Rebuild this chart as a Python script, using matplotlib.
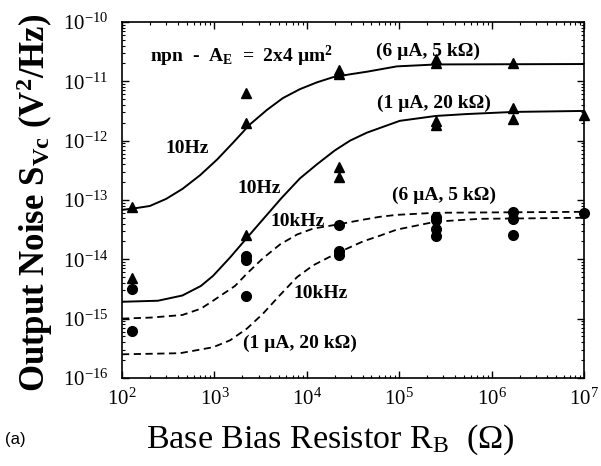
import matplotlib
matplotlib.use("Agg")
import matplotlib.pyplot as plt
import numpy as np

plt.rcParams['font.family'] = ['Liberation Serif', 'DejaVu Serif']
plt.rcParams['mathtext.fontset'] = 'custom'
plt.rcParams['mathtext.rm'] = 'Liberation Serif'
plt.rcParams['mathtext.it'] = 'Liberation Serif:italic'
plt.rcParams['mathtext.bf'] = 'Liberation Serif:bold'

# ---- measured points (base resistor in ohm, noise in V^2/Hz) ----
rb_10hz = [128, 128, 2200, 2200, 2200, 22000, 22000, 22000, 22000,
           250000, 250000, 250000, 250000, 1.7e6, 1.7e6, 1.7e6, 1e7]
s_10hz = [7.6e-14, 4.8e-15, 6.3e-12, 2.0e-12, 2.6e-14, 1.53e-11, 1.3e-11, 3.55e-13, 2.4e-13,
          2.4e-11, 2.0e-11, 2.15e-12, 1.8e-12, 2.0e-11, 3.55e-12, 2.3e-12, 2.7e-12]

rb_10khz = [128, 128, 2200, 2200, 2200, 22000, 22000, 22000,
            250000, 250000, 250000, 250000, 1.7e6, 1.7e6, 1.7e6, 1e7]
s_10khz = [3.2e-15, 6.1e-16, 1.12e-14, 9.6e-15, 2.4e-15, 3.8e-14, 1.36e-14, 1.2e-14,
           5.2e-14, 4.6e-14, 3.2e-14, 2.5e-14, 6.3e-14, 4.8e-14, 2.6e-14, 6.1e-14]

# ---- model curves ----
# 10 Hz, (6 uA, 5 kOhm)
rb_c1 = [100, 128, 200, 300, 450, 700, 1070, 1600, 2400, 3700, 5500, 8400, 12900,
         19200, 29400, 45000, 94000, 254000, 1e7]
s_c1 = [6.8e-14, 7.1e-14, 7.9e-14, 1.04e-13, 1.53e-13, 2.61e-13, 4.8e-13, 9.3e-13, 1.85e-12,
        3.29e-12, 5.2e-12, 7.35e-12, 9.6e-12, 1.17e-11, 1.31e-11, 1.45e-11, 1.78e-11,
        1.92e-11, 1.95e-11]

# 10 Hz, (1 uA, 20 kOhm)
rb_c2 = [100, 245, 450, 714, 966, 1475, 2250, 3350, 5300, 8400, 12900, 20000, 29400,
         44600, 101000, 248000, 537000, 1.73e6, 1e7]
s_c2 = [1.92e-15, 2.0e-15, 2.45e-15, 3.55e-15, 5.25e-15, 1.07e-14, 2.3e-14, 4.7e-14, 1.07e-13,
        2.3e-13, 4.0e-13, 6.8e-13, 1.0e-12, 1.36e-12, 2.15e-12, 2.6e-12, 2.8e-12, 3.04e-12,
        3.16e-12]

# 10 kHz, (6 uA, 5 kOhm)
rb_c3 = [100, 206, 450, 714, 966, 1670, 2250, 3350, 5130, 7830, 11700, 21000, 40500,
         61900, 94000, 248000, 1e7]
s_c3 = [1.0e-15, 1.04e-15, 1.15e-15, 1.47e-15, 2.0e-15, 3.55e-15, 5.75e-15, 1.04e-14, 1.78e-14,
        2.61e-14, 3.29e-14, 3.83e-14, 4.64e-14, 5.2e-14, 5.6e-14, 6.07e-14, 6.3e-14]

# 10 kHz, (1 uA, 20 kOhm)
rb_c4 = [100, 425, 966, 1475, 2250, 3350, 5130, 7830, 11700, 21000, 40500, 61900, 94000,
         248000, 741000, 1e7]
s_c4 = [2.5e-16, 2.61e-16, 3.29e-16, 4.3e-16, 6.8e-16, 1.21e-15, 2.5e-15, 5.0e-15, 7.9e-15,
        1.26e-14, 2.0e-14, 2.5e-14, 3.16e-14, 4.3e-14, 4.8e-14, 5.0e-14]

fig = plt.figure(figsize=(6.01, 4.66), dpi=100)
ax = fig.add_axes([0.203, 0.189, 0.769, 0.764])

ax.plot(rb_c1, s_c1, color='black', lw=1.4)
ax.plot(rb_c2, s_c2, color='black', lw=1.4)
ax.plot(rb_c3, s_c3, color='black', lw=1.3, dashes=(4, 2.5))
ax.plot(rb_c4, s_c4, color='black', lw=1.3, dashes=(4, 2.5))

ax.plot(rb_10hz, s_10hz, '^', color='black', ms=7, clip_on=False)
ax.plot(rb_10khz, s_10khz, 'o', color='black', ms=7, clip_on=False)

ax.set_xscale('log')
ax.set_yscale('log')
ax.set_xlim(1e2, 1e7)
ax.set_ylim(1e-16, 1e-10)

ax.tick_params(which='both', direction='in', top=True, right=True, labelsize=15)
ax.tick_params(which='major', length=5, width=1)
ax.tick_params(which='minor', length=2.5, width=0.8)
ax.tick_params(axis='y', which='major', pad=10)
ax.tick_params(axis='x', which='major', pad=8)
for s in ax.spines.values():
    s.set_linewidth(1.2)

tk = dict(transform=ax.transAxes, fontsize=14, fontweight='bold', ha='center', va='center')
ax.text(0.061, 0.903, r'npn  -  A$_{\mathbf{E}}$  =  2x4 µm$^{\mathbf{2}}$', **dict(tk, ha='left'))
ax.text(0.662, 0.917, '(6 µA, 5 kΩ)', **tk)
ax.text(0.675, 0.772, '(1 µA, 20 kΩ)', **tk)
ax.text(0.141, 0.644, '10Hz', **tk)
ax.text(0.297, 0.531, '10Hz', **tk)
ax.text(0.379, 0.439, '10kHz', **tk)
ax.text(0.697, 0.514, '(6 µA, 5 kΩ)', **tk)
ax.text(0.429, 0.236, '10kHz', **tk)
ax.text(0.385, 0.097, '(1 µA, 20 kΩ)', **tk)

fig.text(0.058, 0.564, r'Output Noise S$_{\mathbf{Vc}}$ (V$^{\mathbf{2}}$/Hz)',
         rotation=90, fontsize=25, fontweight='bold', ha='center', va='center')
fig.text(0.549, 0.056, r'Base Bias Resistor R$_{\mathrm{B}}$  (Ω)',
         fontsize=24.5, ha='center', va='center')
fig.text(0.008, 0.056, '(a)', fontsize=12, family='Liberation Sans', ha='left', va='center')

fig.savefig('out.png', dpi=100)
